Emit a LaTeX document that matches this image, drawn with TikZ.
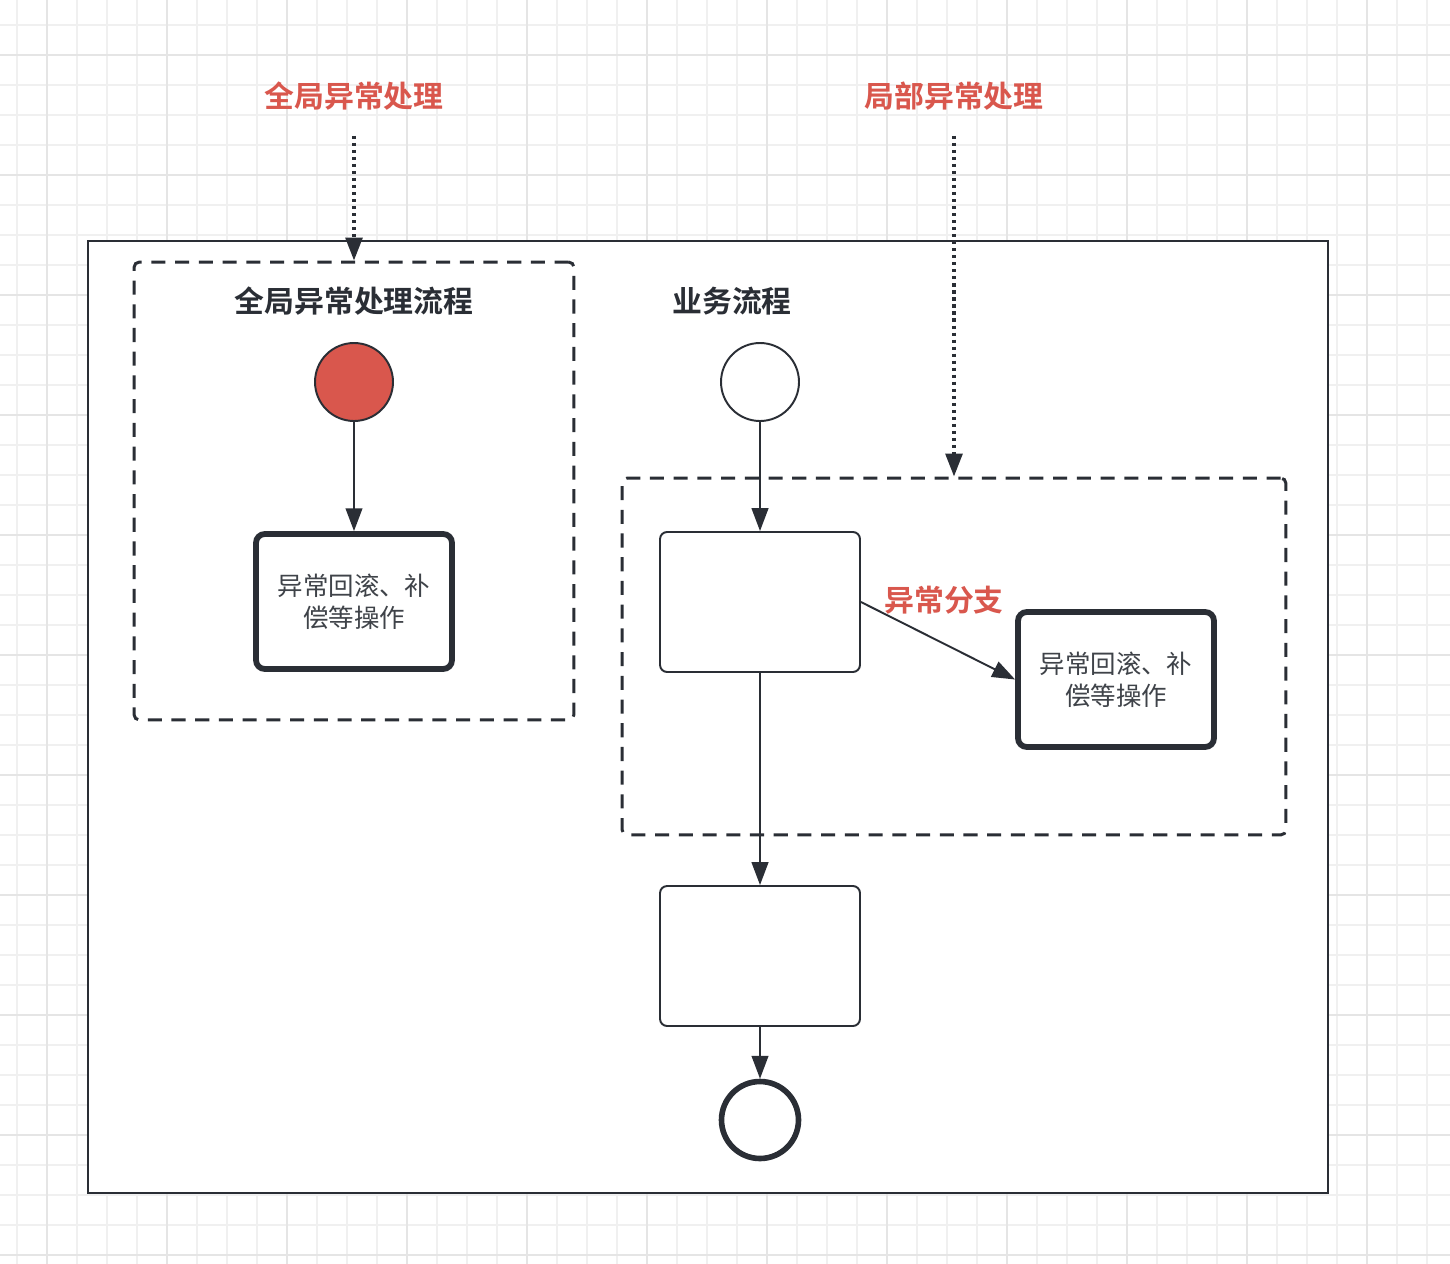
\documentclass[tikz,border=0pt]{standalone}
\usepackage{fontspec}
\setmainfont{Noto Sans CJK SC}[BoldFont={Noto Sans CJK SC Bold}]
\usetikzlibrary{positioning,arrows.meta}
\definecolor{alertred}{HTML}{D9574D}
\definecolor{inkgray}{HTML}{2A2E35}
\tikzset{
  flowarrow/.style={-{Triangle[length=13pt, width=9.5pt]}, line width=1.1pt, draw=inkgray},
  hintarrow/.style={-{Triangle[length=13pt, width=9.5pt]}, line width=2pt, draw=inkgray, dash pattern=on 1.8pt off 2.2pt},
  zonebox/.style={draw=inkgray, line width=1.7pt, dash pattern=on 8pt off 5.5pt, rounded corners=3pt},
  taskbox/.style={draw=inkgray, line width=1.1pt, rounded corners=4pt, fill=white, minimum width=4cm, minimum height=2.8cm},
  handlerbox/.style={draw=inkgray, line width=3.3pt, rounded corners=5pt, fill=white, minimum width=3.92cm, minimum height=2.7cm, align=center, font=\fontsize{14.5}{18}\selectfont, text=inkgray!90},
  eventnode/.style={circle, draw=inkgray, line width=1.1pt, fill=white, minimum size=1.56cm, inner sep=0pt},
  titlenode/.style={font=\fontsize{17}{20}\selectfont\bfseries, text=inkgray},
  hintlabel/.style={font=\fontsize{17}{20}\selectfont\bfseries, text=alertred}
}

\begin{document}
\begin{tikzpicture}[x=0.02cm, y=-0.02cm]
  \useasboundingbox (0,0) rectangle (1450,1264);
  % grid paper
  \fill[white] (0,0) rectangle (1450,1264);
  \foreach \x in {17,47,...,1450}
    \draw[black!6, line width=0.8pt] (\x,0) -- (\x,1264);
  \foreach \y in {25,55,...,1264}
    \draw[black!6, line width=0.8pt] (0,\y) -- (1450,\y);
  \foreach \x in {47,167,...,1450}
    \draw[black!10, line width=1pt] (\x,0) -- (\x,1264);
  \foreach \y in {55,175,...,1264}
    \draw[black!10, line width=1pt] (0,\y) -- (1450,\y);

  \node[draw=inkgray, line width=1.4pt, fill=white, minimum width=24.8cm, minimum height=19.04cm] (frame) at (708,717) {};

  % global handler
  \node[zonebox, minimum width=8.8cm, minimum height=9.16cm] (globalzone) at (354,491) {};
  \node[titlenode] (globaltitle) at (354,301) {全局异常处理流程};
  \node[eventnode, fill=alertred] (globalstart) at (354,382) {};
  \node[handlerbox] (globalrollback) at (354,601.5) {异常回滚、补\\偿等操作};
  \draw[flowarrow] (globalstart) -- (globalrollback);

  % business flow
  \node[titlenode] (flowtitle) at (732,301) {业务流程};
  \node[eventnode] (flowstart) at (760,382) {};
  \node[zonebox, minimum width=13.28cm, minimum height=7.14cm] (localzone) at (954,656.5) {};
  \node[taskbox] (task1) at (760,602) {};
  \node[handlerbox] (localrollback) at (1116,679.5) {异常回滚、补\\偿等操作};
  \node[taskbox] (task2) at (760,956) {};
  \node[eventnode, line width=3.2pt, minimum size=1.54cm] (flowend) at (760,1120) {};
  \draw[flowarrow] (flowstart) -- (task1);
  \draw[flowarrow] (task1.east) -- (localrollback.west);
  \node[hintlabel] (branchlabel) at (944,600) {异常分支};
  \draw[flowarrow] (task1) -- (task2);
  \draw[flowarrow] (task2) -- (flowend);

  % hints
  \node[hintlabel] (globalhint) at (354,96) {全局异常处理};
  \node[hintlabel] (localhint) at (954,96) {局部异常处理};
  \draw[hintarrow, shorten <=11pt] (globalhint) -- (globalzone.north);
  \draw[hintarrow, shorten <=11pt] (localhint) -- (localzone.north);
\end{tikzpicture}
\end{document}
